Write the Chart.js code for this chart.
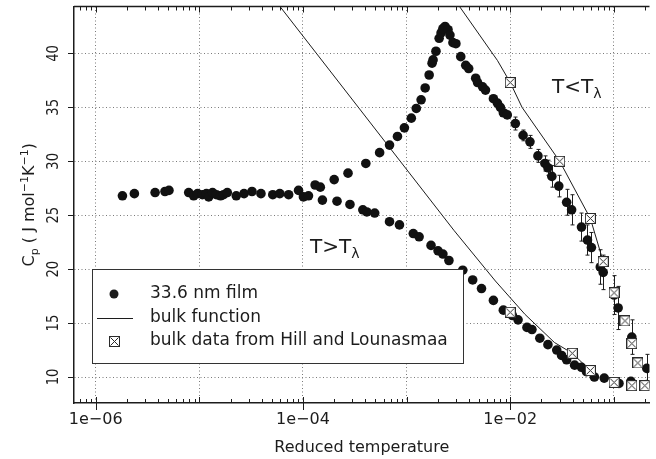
<!DOCTYPE html>
<html>
<head>
<meta charset="utf-8">
<script src="https://cdn.jsdelivr.net/npm/chart.js@4.4.0/dist/chart.umd.min.js"></script>
<style>
  html, body { margin: 0; padding: 0; background: #fff; }
</style>
</head>
<body>
<canvas id="cpChart" width="656" height="459"></canvas>
<script>
// flat part, both branches overlap here
const flatT  = [1.81e-6, 2.36e-6, 3.74e-6, 4.66e-6, 5.09e-6, 7.89e-6, 8.81e-6, 9.62e-6, 1.07e-5, 1.17e-5, 1.23e-5, 1.34e-5, 1.46e-5,
                1.60e-5, 1.71e-5, 1.86e-5, 2.27e-5, 2.70e-5, 3.22e-5, 3.93e-5, 5.11e-5, 5.97e-5, 7.27e-5, 9.06e-5, 1.01e-4, 1.13e-4];
const flatCp = [26.8, 27.0, 27.1, 27.2, 27.3, 27.1, 26.8, 27.0, 26.9, 27.0, 26.7, 27.1, 26.9,
                26.8, 26.9, 27.1, 26.8, 27.0, 27.2, 27.0, 26.9, 27.0, 26.9, 27.3, 26.7, 26.8];

// T > T_lambda branch
const warmT  = [1.54e-4, 2.13e-4, 2.84e-4, 3.78e-4, 4.13e-4, 4.92e-4, 6.84e-4, 8.53e-4, 1.16e-3, 1.32e-3, 1.72e-3, 2.01e-3,
                2.24e-3, 2.56e-3, 3.48e-3, 4.34e-3, 5.28e-3, 6.88e-3, 8.58e-3, 1.05e-2, 1.19e-2, 1.45e-2, 1.62e-2, 1.93e-2,
                2.31e-2, 2.81e-2, 3.13e-2, 3.50e-2, 4.18e-2, 4.87e-2, 5.43e-2, 6.48e-2, 8.07e-2, 0.112, 0.146, 0.208];
const warmCp = [26.4, 26.3, 26.0, 25.5, 25.3, 25.2, 24.4, 24.1, 23.3, 23.0, 22.2, 21.7,
                21.4, 20.8, 19.9, 19.0, 18.2, 17.1, 16.2, 15.7, 15.3, 14.6, 14.4, 13.6,
                13.0, 12.5, 12.0, 11.6, 11.1, 10.9, 10.5, 10.0, 9.9, 9.4, 9.6, 9.3];

// T < T_lambda branch (with error bars)
const coldT  = [1.31e-4, 1.47e-4, 2.00e-4, 2.72e-4, 4.04e-4, 5.49e-4, 6.84e-4, 8.16e-4, 9.52e-4, 1.11e-3, 1.24e-3, 1.38e-3,
                1.51e-3, 1.65e-3, 1.76e-3, 1.80e-3, 1.92e-3, 2.06e-3, 2.15e-3, 2.24e-3, 2.35e-3, 2.51e-3, 2.62e-3, 2.80e-3,
                2.99e-3, 3.33e-3, 3.72e-3, 3.97e-3, 4.64e-3, 4.84e-3, 5.41e-3, 5.77e-3, 6.88e-3, 7.52e-3, 8.03e-3, 8.58e-3,
                9.36e-3, 1.12e-2, 1.33e-2, 1.55e-2, 1.85e-2, 2.16e-2, 2.31e-2, 2.52e-2, 2.94e-2, 3.50e-2, 3.91e-2, 4.87e-2,
                5.56e-2, 6.07e-2, 7.40e-2, 7.89e-2, 0.1005, 0.1099, 0.149, 0.208];
const coldCp = [27.8, 27.6, 28.3, 28.9, 29.8, 30.8, 31.5, 32.3, 33.1, 34.0, 34.9, 35.7,
                36.8, 38.0, 39.1, 39.4, 40.2, 41.4, 41.9, 42.3, 42.5, 42.2, 41.7, 41.0,
                40.9, 39.7, 38.9, 38.6, 37.7, 37.3, 36.9, 36.6, 35.8, 35.4, 35.0, 34.5,
                34.3, 33.5, 32.4, 31.8, 30.5, 29.8, 29.4, 28.6, 27.7, 26.2, 25.5, 23.9,
                22.7, 22.0, 20.2, 19.7, 17.6, 16.4, 13.7, 10.8];
const coldErr = [0, 0, 0, 0, 0, 0, 0, 0, 0, 0, 0, 0,
                 0, 0, 0, 0, 0, 0, 0, 0, 0, 0, 0, 0,
                 0, 0, 0, 0, 0, 0, 0, 0, 0, 0, 0, 0,
                 0, 0.6, 0.5, 0.6, 0.6, 0.7, 0.7, 1.0, 1.0, 1.2, 1.4, 1.3,
                 1.4, 1.4, 1.6, 1.6, 1.8, 2.0, 1.6, 1.3];

// bulk function curves
const fnWarmT  = [4.58e-5, 2.86e-3, 7.19e-3, 1.39e-2, 2.67e-2, 3.97e-2, 5.93e-2];
const fnWarmCp = [45.8, 23.6, 18.9, 15.8, 13.2, 12.2, 10.6];
const fnColdT  = [2.67e-3, 7.52e-3, 1.0e-2, 1.30e-2, 3.0e-2, 5.93e-2, 7.89e-2];
const fnColdCp = [45.5, 39.35, 37.3, 35.0, 30.0, 24.7, 20.7];

// bulk data from Hill and Lounasmaa
const hillColdT  = [1.0e-2, 3.0e-2, 5.93e-2, 7.89e-2, 0.1005, 0.128, 0.149, 0.170, 0.199];
const hillColdCp = [37.3, 30.0, 24.7, 20.7, 17.8, 15.2, 13.1, 11.3, 9.2];
const hillWarmT  = [1.0e-2, 3.97e-2, 5.93e-2, 0.1005, 0.149];
const hillWarmCp = [16.0, 12.2, 10.6, 9.5, 9.2];

const decades = [1e-6, 1e-5, 1e-4, 1e-3, 1e-2, 1e-1];
const xTickText = ['1e\u221206', '', '1e\u221204', '', '1e\u221202', ''];
const yTicks = [10, 15, 20, 25, 30, 35, 40];

const INK = '#1c1c1c';
const FONT = '"DejaVu Sans", sans-serif';

const pairs = (xs, ys) => xs.map((x, i) => ({ x: x, y: ys[i] }));

function boxCross() {
    const c = document.createElement('canvas');
    c.width = 11; c.height = 11;
    const g = c.getContext('2d');
    g.fillStyle = '#fff';
    g.fillRect(0, 0, 11, 11);
    g.strokeStyle = '#2a2a2a';
    g.lineWidth = 1;
    g.strokeRect(0.5, 0.5, 10, 10);
    g.beginPath();
    g.moveTo(1.5, 1.5); g.lineTo(9.5, 9.5);
    g.moveTo(9.5, 1.5); g.lineTo(1.5, 9.5);
    g.stroke();
    return c;
}
const squareX = boxCross();

// error bars, ticks, rotated labels, legend and notes
const extras = {
    id: 'extras',
    beforeDatasetsDraw(chart) {
        const ctx = chart.ctx, xs = chart.scales.x, ys = chart.scales.y;
        ctx.save();
        ctx.strokeStyle = INK;
        ctx.lineWidth = 1;
        coldT.forEach((t, i) => {
            const e = coldErr[i];
            if (!e) return;
            const px = Math.round(xs.getPixelForValue(t)) + 0.5;
            const y1 = ys.getPixelForValue(coldCp[i] - e);
            const y2 = ys.getPixelForValue(coldCp[i] + e);
            ctx.beginPath();
            ctx.moveTo(px, y1); ctx.lineTo(px, y2);
            ctx.moveTo(px - 2, y1); ctx.lineTo(px + 2, y1);
            ctx.moveTo(px - 2, y2); ctx.lineTo(px + 2, y2);
            ctx.stroke();
        });
        ctx.restore();
    },
    afterDraw(chart) {
        const ctx = chart.ctx, xs = chart.scales.x, ys = chart.scales.y;
        const a = chart.chartArea;
        ctx.save();
        ctx.strokeStyle = INK;

        // top frame line
        ctx.lineWidth = 1.5;
        ctx.beginPath();
        ctx.moveTo(a.left, a.top); ctx.lineTo(a.right, a.top);
        ctx.stroke();

        // log ticks top and bottom
        ctx.lineWidth = 1;
        ctx.beginPath();
        for (let e = -7; e <= -1; e++) {
            for (let m = 1; m <= 9; m++) {
                const v = m * Math.pow(10, e);
                if (v < xs.min || v > xs.max) continue;
                const px = Math.round(xs.getPixelForValue(v)) + 0.5;
                const len = m === 1 ? 6 : 4;
                ctx.moveTo(px, a.bottom); ctx.lineTo(px, a.bottom - len);
                ctx.moveTo(px, a.top); ctx.lineTo(px, a.top + len);
                if (m === 1 && e % 2 === 0) {
                    ctx.moveTo(px, a.bottom); ctx.lineTo(px, a.bottom + 7);
                }
            }
        }
        // y ticks, outward
        yTicks.forEach(v => {
            const py = Math.round(ys.getPixelForValue(v)) + 0.5;
            ctx.moveTo(a.left - 6, py); ctx.lineTo(a.left, py);
        });
        ctx.stroke();

        // rotated y tick labels
        ctx.fillStyle = INK;
        ctx.font = '16px ' + FONT;
        ctx.textAlign = 'center';
        ctx.textBaseline = 'middle';
        yTicks.forEach(v => {
            ctx.save();
            ctx.translate(54, ys.getPixelForValue(v));
            ctx.rotate(-Math.PI / 2);
            ctx.scale(0.82, 1);
            ctx.fillText(String(v), 0, 0);
            ctx.restore();
        });

        // y title with sub/superscripts
        const parts = [
            { t: 'C', s: 16, dy: 0 },
            { t: 'p', s: 11, dy: 4 },
            { t: ' ( J mol', s: 16, dy: 0 },
            { t: '\u22121', s: 11, dy: -6 },
            { t: 'K', s: 16, dy: 0 },
            { t: '\u22121', s: 11, dy: -6 },
            { t: ')', s: 16, dy: 0 }
        ];
        let total = 0;
        parts.forEach(p => { ctx.font = p.s + 'px ' + FONT; p.w = ctx.measureText(p.t).width; total += p.w; });
        ctx.save();
        ctx.translate(28, (a.top + a.bottom) / 2);
        ctx.rotate(-Math.PI / 2);
        ctx.textAlign = 'left';
        ctx.textBaseline = 'alphabetic';
        let cx = -total / 2;
        parts.forEach(p => {
            ctx.font = p.s + 'px ' + FONT;
            ctx.fillText(p.t, cx, 6 + p.dy);
            cx += p.w;
        });
        ctx.restore();

        // region notes
        const note = (x, y, rel) => {
            ctx.textAlign = 'left';
            ctx.textBaseline = 'alphabetic';
            ctx.font = '20px ' + FONT;
            const s = 'T' + rel + 'T';
            ctx.fillText(s, x, y);
            const w = ctx.measureText(s).width;
            ctx.font = '14px ' + FONT;
            ctx.fillText('\u03bb', x + w, y + 5);
        };
        note(552, 93, '<');
        note(310, 253, '>');

        // legend box
        ctx.fillStyle = '#fff';
        ctx.fillRect(92, 269, 371, 94);
        ctx.strokeStyle = '#333';
        ctx.lineWidth = 1;
        ctx.strokeRect(92.5, 269.5, 371, 94);
        ctx.fillStyle = INK;
        ctx.beginPath();
        ctx.arc(114, 294, 4.5, 0, Math.PI * 2);
        ctx.fill();
        ctx.strokeStyle = INK;
        ctx.beginPath();
        ctx.moveTo(97, 318.5); ctx.lineTo(133, 318.5);
        ctx.stroke();
        ctx.drawImage(squareX, 109, 336);
        ctx.font = '17px ' + FONT;
        ctx.textAlign = 'left';
        ctx.textBaseline = 'middle';
        ctx.fillText('33.6 nm film', 150, 294);
        ctx.fillText('bulk function', 150, 318);
        ctx.fillText('bulk data from Hill and Lounasmaa', 150, 341);

        ctx.restore();
    }
};

Chart.defaults.font.family = FONT;
Chart.defaults.color = INK;

const ctx = document.getElementById('cpChart').getContext('2d');
new Chart(ctx, {
    type: 'scatter',
    data: {
        datasets: [
            {
                label: 'bulk data from Hill and Lounasmaa',
                data: pairs(hillColdT, hillColdCp).concat(pairs(hillWarmT, hillWarmCp)),
                pointStyle: squareX,
                pointRadius: 5.5,
                order: 0
            },
            {
                label: '33.6 nm film',
                data: pairs(flatT, flatCp).concat(pairs(warmT, warmCp), pairs(coldT, coldCp)),
                pointRadius: 4.8,
                backgroundColor: '#111',
                borderWidth: 0,
                order: 1
            },
            {
                label: 'bulk function',
                data: pairs(fnWarmT, fnWarmCp),
                showLine: true,
                pointRadius: 0,
                borderColor: INK,
                borderWidth: 1,
                order: 2
            },
            {
                label: 'bulk function (cold)',
                data: pairs(fnColdT, fnColdCp),
                showLine: true,
                pointRadius: 0,
                borderColor: INK,
                borderWidth: 1,
                order: 2
            }
        ]
    },
    options: {
        responsive: false,
        animation: false,
        events: [],
        layout: { padding: { top: 6, right: 0, left: 0, bottom: 0 } },
        plugins: {
            legend: { display: false },
            tooltip: { enabled: false }
        },
        scales: {
            x: {
                type: 'logarithmic',
                min: 6.17e-7,
                max: 0.2207,
                afterBuildTicks: s => { s.ticks = decades.map(v => ({ value: v })); },
                afterFit: s => { s.height = 56; },
                ticks: {
                    autoSkip: false,
                    maxRotation: 0,
                    padding: 7,
                    color: INK,
                    font: { size: 16, family: FONT },
                    callback: (v, i) => xTickText[i]
                },
                grid: { color: '#7a7a7a', lineWidth: 1, drawTicks: false },
                border: { display: true, color: INK, width: 1.5, dash: [1, 2.5] },
                title: {
                    display: true,
                    text: 'Reduced temperature',
                    color: INK,
                    font: { size: 16, family: FONT },
                    padding: { top: 0, bottom: 2 }
                }
            },
            y: {
                min: 7.59,
                max: 44.35,
                afterBuildTicks: s => { s.ticks = yTicks.map(v => ({ value: v })); },
                afterFit: s => { s.width = 74; },
                ticks: { display: false },
                grid: { color: '#7a7a7a', lineWidth: 1, drawTicks: false },
                border: { display: true, color: INK, width: 1.5, dash: [1, 2.5] }
            }
        }
    },
    plugins: [extras]
});
</script>
</body>
</html>
